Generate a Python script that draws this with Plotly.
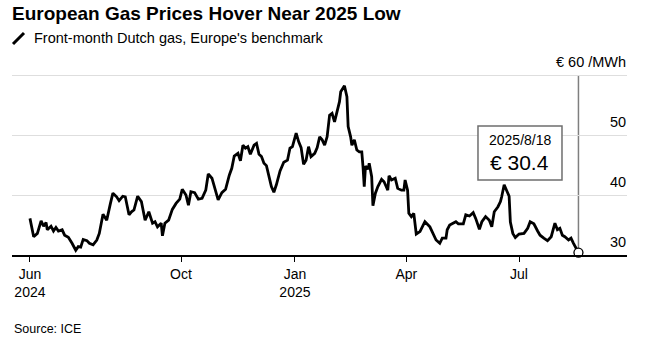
import plotly.graph_objects as go

dates = ["2024-06-01","2024-06-03","2024-06-04","2024-06-07","2024-06-10","2024-06-12","2024-06-14","2024-06-15","2024-06-18","2024-06-20",
"2024-06-22","2024-06-24","2024-06-27","2024-06-29","2024-07-02","2024-07-05","2024-07-08","2024-07-10","2024-07-12","2024-07-14",
"2024-07-17","2024-07-19","2024-07-22","2024-07-25","2024-07-27","2024-07-30","2024-08-02","2024-08-05","2024-08-07","2024-08-10",
"2024-08-12","2024-08-15","2024-08-17","2024-08-20","2024-08-22","2024-08-24","2024-08-27","2024-08-30","2024-09-02","2024-09-05",
"2024-09-08","2024-09-10","2024-09-12","2024-09-15","2024-09-16","2024-09-18","2024-09-21","2024-09-24","2024-09-27","2024-09-30",
"2024-10-02","2024-10-05","2024-10-07","2024-10-09","2024-10-12","2024-10-15","2024-10-18","2024-10-21","2024-10-23","2024-10-26",
"2024-10-29","2024-10-31","2024-11-03","2024-11-06","2024-11-09","2024-11-11","2024-11-13","2024-11-16","2024-11-18","2024-11-20",
"2024-11-22","2024-11-24","2024-11-26","2024-11-29","2024-12-01","2024-12-03","2024-12-05","2024-12-07","2024-12-09","2024-12-11",
"2024-12-13","2024-12-15","2024-12-17","2024-12-20","2024-12-23","2024-12-26","2024-12-28","2024-12-30","2025-01-02","2025-01-04",
"2025-01-06","2025-01-08","2025-01-10","2025-01-12","2025-01-14","2025-01-17","2025-01-19","2025-01-21","2025-01-23","2025-01-25",
"2025-01-27","2025-01-29","2025-01-31","2025-02-02","2025-02-04","2025-02-06","2025-02-07","2025-02-09","2025-02-10","2025-02-12",
"2025-02-13","2025-02-15","2025-02-16","2025-02-18","2025-02-20","2025-02-22","2025-02-24","2025-02-25","2025-02-26","2025-02-27",
"2025-03-01","2025-03-02","2025-03-04","2025-03-05","2025-03-07","2025-03-09","2025-03-12","2025-03-14","2025-03-17","2025-03-18",
"2025-03-20","2025-03-23","2025-03-25","2025-03-28","2025-03-30","2025-03-31","2025-04-02","2025-04-03","2025-04-05","2025-04-07",
"2025-04-09","2025-04-12","2025-04-16","2025-04-20","2025-04-22","2025-04-25","2025-04-28","2025-04-30","2025-05-03","2025-05-04",
"2025-05-06","2025-05-08","2025-05-11","2025-05-13","2025-05-17","2025-05-19","2025-05-22","2025-05-25","2025-05-27","2025-05-30",
"2025-06-01","2025-06-04","2025-06-07","2025-06-09","2025-06-11","2025-06-14","2025-06-16","2025-06-17","2025-06-19","2025-06-21",
"2025-06-23","2025-06-24","2025-06-26","2025-06-28","2025-07-01","2025-07-05","2025-07-08","2025-07-10","2025-07-13","2025-07-16",
"2025-07-18","2025-07-21","2025-07-24","2025-07-27","2025-07-30","2025-08-01","2025-08-03","2025-08-05","2025-08-07","2025-08-10",
"2025-08-12","2025-08-14","2025-08-16","2025-08-18"]

prices = [36.1,33.9,33.05,33.6,35.7,34.8,35.4,34.2,34.8,34.0,
34.6,34.0,34.2,33.3,32.95,31.95,30.8,31.4,31.3,32.6,
32.4,31.95,31.7,32.5,33.6,36.8,35.8,38.6,40.3,39.7,
39.05,39.8,39.7,36.7,37.2,37.5,39.8,38.9,35.8,37.2,
35.3,35.55,34.7,35.3,33.2,35.3,35.8,37.6,38.6,39.3,
40.95,40.0,38.3,40.55,40.4,39.3,39.45,40.8,43.5,42.8,
40.8,39.2,40.4,40.95,43.3,44.45,46.5,46.95,45.7,48.3,
47.8,48.05,46.8,48.3,48.6,46.8,46.4,45.3,44.9,43.3,
41.4,40.45,41.7,44.0,45.45,45.8,47.8,48.05,50.3,48.9,
47.9,45.1,45.8,48.05,46.4,46.95,47.9,49.7,49.2,48.3,
49.7,53.3,53.6,52.2,53.9,55.55,57.2,58.05,58.2,56.4,
51.4,49.7,48.3,49.2,47.5,47.2,47.2,44.7,41.4,44.8,
44.3,45.3,43.05,38.2,40.3,41.4,42.6,42.2,40.8,43.2,
42.5,42.8,41.1,40.8,40.8,42.5,40.8,36.95,36.4,36.95,
33.5,33.9,35.55,34.7,33.9,32.5,31.95,32.8,32.8,34.2,
35.0,35.2,35.55,35.2,35.2,36.7,36.5,37.05,36.1,34.3,
35.55,36.4,35.8,34.7,37.2,38.05,38.9,39.7,41.7,40.75,
39.8,35.5,33.6,32.9,33.5,33.6,34.45,35.55,35.2,34.0,
33.3,32.8,32.4,33.05,35.3,34.2,34.45,33.3,33.05,32.5,
32.8,31.95,31.1,30.4]

x_tick_vals = ["2024-06-01", "2024-10-01", "2025-01-01", "2025-04-01", "2025-07-01"]
x_tick_text = ["Jun<br>2024", "Oct", "Jan<br>2025", "Apr", "Jul"]
y_tick_vals = [30, 40, 50, 60]
y_tick_text = ["30", "40", "50", "€ 60 /MWh"]

FONT = "Liberation Sans, Arial, sans-serif"

fig = go.Figure()
fig.add_trace(go.Scatter(x=dates, y=prices, mode="lines",
                         line=dict(color="#000000", width=2.8), hoverinfo="skip",
                         showlegend=False))
fig.add_trace(go.Scatter(x=[dates[-1]], y=[prices[-1]], mode="markers",
                         marker=dict(size=9, color="white", line=dict(color="#000000", width=1.3)),
                         cliponaxis=False, showlegend=False, hoverinfo="skip"))

# vertical marker line at last date
fig.add_shape(type="line", xref="x", yref="y", x0=dates[-1], x1=dates[-1], y0=30, y1=60,
              line=dict(color="#7f7f7f", width=1.5), layer="below")

# legend icon
fig.add_shape(type="line", xref="paper", yref="paper",
              x0=0.0016, y0=1.153, x1=0.0195, y1=1.213,
              line=dict(color="#000000", width=3))

# y tick labels (above gridlines, right-aligned)
for v, t in zip(y_tick_vals, y_tick_text):
    fig.add_annotation(xref="paper", yref="y", x=1.0016, y=v, xanchor="right", yanchor="middle",
                       yshift=13, text=t, showarrow=False,
                       font=dict(family=FONT, size=14.5, color="#000"))

# last value call-out box
fig.add_shape(type="rect", xref="paper", yref="paper", x0=0.7577, x1=0.8943, y0=0.410, y1=0.705,
              line=dict(color="#6e6e6e", width=1.5), fillcolor="white", layer="above")
y, m, d = dates[-1].split("-")
fig.add_annotation(xref="paper", yref="paper", x=0.826, y=0.628, xanchor="center", yanchor="middle",
                   text=f"{int(y)}/{int(m)}/{int(d)}", showarrow=False,
                   font=dict(family=FONT, size=14, color="#000"))
fig.add_annotation(xref="paper", yref="paper", x=0.826, y=0.508, xanchor="center", yanchor="middle",
                   text=f"€ {prices[-1]}", showarrow=False,
                   font=dict(family=FONT, size=21, color="#000"))

fig.add_annotation(xref="paper", yref="paper", x=-0.0033, y=1.317, xanchor="left", yanchor="middle",
                   text="<b>European Gas Prices Hover Near 2025 Low</b>", showarrow=False,
                   font=dict(family=FONT, size=19, color="#000"))
fig.add_annotation(xref="paper", yref="paper", x=0.0325, y=1.186, xanchor="left", yanchor="middle",
                   text="Front-month Dutch gas, Europe's benchmark", showarrow=False,
                   font=dict(family=FONT, size=14.5, color="#000"))
fig.add_annotation(xref="paper", yref="paper", x=0.0, y=-0.404, xanchor="left", yanchor="middle",
                   text="Source: ICE", showarrow=False,
                   font=dict(family=FONT, size=12.5, color="#000"))

fig.update_layout(
    width=649, height=346,
    margin=dict(l=12, r=22, t=72, b=91),
    paper_bgcolor="white", plot_bgcolor="white",
    font=dict(family=FONT, color="#000"),
    showlegend=False,
    xaxis=dict(range=["2024-05-17 12:00", "2025-09-26 05:00"], tickvals=x_tick_vals, ticktext=x_tick_text,
               showgrid=False, showline=True, linecolor="#000", linewidth=1.5,
               ticks="outside", ticklen=5, tickcolor="#000", tickwidth=1,
               tickfont=dict(family=FONT, size=14, color="#000"), zeroline=False),
    yaxis=dict(range=[30, 60.5], side="right", tickvals=y_tick_vals,
               showticklabels=False, showgrid=True, gridcolor="#dedede", gridwidth=1,
               ticks="", showline=False, zeroline=False),
)

fig.write_html("out.html")
